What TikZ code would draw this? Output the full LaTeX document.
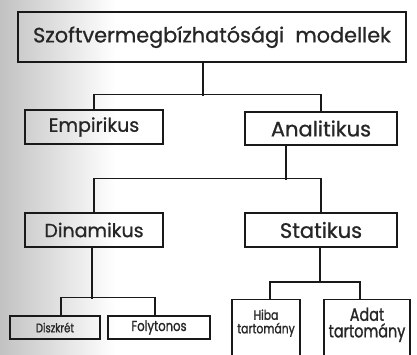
\documentclass[tikz,border=0pt]{standalone}
\usepackage{fontspec}
\setmainfont{Poppins}
\newfontfamily\gothic{Poppins}[FakeBold=0.8]
\newfontfamily\gothicnarrow{Poppins}[FakeBold=1.2, FakeStretch=0.8]
\usetikzlibrary{positioning}
\tikzstyle{model} = [rectangle, draw=black!90, line width=1.1pt, text centered, inner sep=0pt, text=black!85]
\tikzstyle{leaf} = [model, minimum height=23pt]
\tikzstyle{link} = [line width=1.1pt, draw=black!90]

\begin{document}
\begin{tikzpicture}[x=1pt, y=-1pt]
\useasboundingbox (0,0) rectangle (417,354);
\shade [left color=black!24, right color=white] (0,0) rectangle (115,354);
\node (root) [model, minimum width=388pt, minimum height=50pt, font=\gothic\fontsize{20.8}{24}\selectfont] at (212,37) {Szoftvermegbízhatósági\ \ modellek};
\node (emp) [model, minimum width=138pt, minimum height=34pt, font=\gothic\fontsize{19}{22}\selectfont] at (94,127) {Empirikus};
\node (ana) [model, minimum width=152pt, minimum height=33pt, font=\gothic\fontsize{21}{24}\selectfont] at (321,128.5) {Analitikus};
\node (din) [model, minimum width=138pt, minimum height=34pt, font=\gothic\fontsize{19}{22}\selectfont] at (94,230) {Dinamikus};
\node (sta) [model, minimum width=152pt, minimum height=34pt, font=\gothic\fontsize{21}{24}\selectfont] at (321,230) {Statikus};
\node (disz) [leaf, minimum width=90pt, font=\gothicnarrow\fontsize{12.5}{15}\selectfont] at (55,327.5) {Diszkrét};
\node (foly) [leaf, minimum width=102pt, font=\gothicnarrow\fontsize{14.5}{17}\selectfont] at (159,327.5) {Folytonos};
\node (hiba) [model, minimum width=68pt, minimum height=80pt, anchor=north,
  label={[anchor=north, yshift=-7pt, align=center, text=black!85, font=\gothicnarrow\fontsize{13.5}{13.5}\selectfont]north:Hiba\\tartomány}] at (266,299) {};
\node (adat) [model, minimum width=86pt, minimum height=80pt, anchor=north,
  label={[anchor=north, yshift=-5pt, align=center, text=black!85, font=\gothicnarrow\fontsize{18}{16.5}\selectfont]north:Adat\\tartomány}] at (367,299) {};
% level 1
\draw [link] ([xshift=-9pt]root.south) -- ++(0,33);
\draw [link] (emp.north) -- ++(0,-15) -| (ana.north);
% level 2
\draw [link] ([xshift=-35pt]ana.south) -- ++(0,34);
\draw [link] (din.north) -- ++(0,-34) -| (sta.north);
% level 3
\draw [link] ([xshift=-2pt]din.south) -- ++(0,51);
\draw [link] ([xshift=6pt]disz.north) -- ++(0,-18) -| ([xshift=-4pt]foly.north);
\draw [link] ([xshift=-1pt]sta.south) -- ++(0,35);
\draw [link] ([xshift=4pt]hiba.north) -- ++(0,-17) -| ([xshift=-7pt]adat.north);
\end{tikzpicture}
\end{document}
